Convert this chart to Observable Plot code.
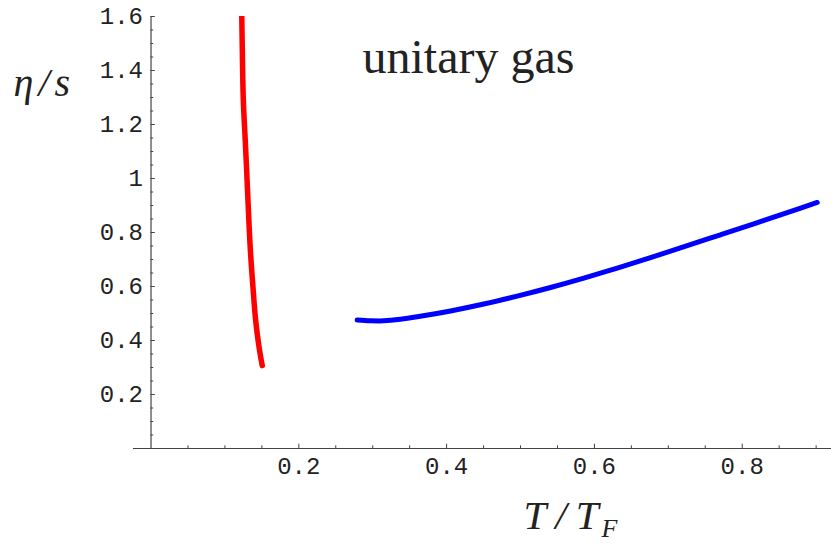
<!DOCTYPE html>
<html><head><meta charset="utf-8">
<script src="https://cdn.jsdelivr.net/npm/d3@7"></script>
<script src="https://cdn.jsdelivr.net/npm/@observablehq/plot@0.6"></script>
<style>html,body{margin:0;padding:0;background:#fff;overflow:hidden}</style>
</head><body><div id="chart"></div>
<script>
// Red curve (low temperature branch)
const redT   = [0.1227, 0.1234, 0.1249, 0.1279, 0.1306, 0.1323, 0.1346, 0.1378, 0.1414, 0.1459, 0.1505];
const redEta = [1.62,   1.50,   1.29,   1.12,   0.956,  0.851,  0.727,  0.604,  0.480,  0.381,  0.307];
// Blue curve (high temperature branch)
const blueT   = [0.2790, 0.2970, 0.3150, 0.3376, 0.3602, 0.4053, 0.4503, 0.4955, 0.5406, 0.5857, 0.6309, 0.6759, 0.7256, 0.7706, 0.8157, 0.8609, 0.9015];
const blueEta = [0.4759, 0.4732, 0.4730, 0.4787, 0.4877, 0.5093, 0.5350, 0.5644, 0.5964, 0.6311, 0.6682, 0.7069, 0.7511, 0.7916, 0.8322, 0.8738, 0.9112];
// Axis ticks
const xMajor = [0.2, 0.4, 0.6, 0.8];
const xTickLabels = ["0.2", "0.4", "0.6", "0.8"];
const yMajor = [0.2, 0.4, 0.6, 0.8, 1.0, 1.2, 1.4, 1.6];
const yTickLabels = ["0.2", "0.4", "0.6", "0.8", "1", "1.2", "1.4", "1.6"];
const xMinor = d3.range(1, 19).map(i => +(i * 0.05).toFixed(2)).filter(v => !xMajor.some(m => Math.abs(m - v) < 1e-9));
const yMinor = d3.range(1, 32).map(i => +(i * 0.05).toFixed(2)).filter(v => !yMajor.some(m => Math.abs(m - v) < 1e-9));
// Labels
const titleText = "unitary gas";
const yLabelText = "η/s";
const xLabelMain = "T/T";
const xLabelSub = "F";

const red = redT.map((t, i) => ({t, eta: redEta[i]}));
const blue = blueT.map((t, i) => ({t, eta: blueEta[i]}));
const xTicks = xMajor.map((v, i) => ({v, label: xTickLabels[i]}));
const yTicks = yMajor.map((v, i) => ({v, label: yTickLabels[i]}));

const W = 831, H = 546;
const mL = 133, mR = 0, mT = 16, mB = 98;
const xDom = [-0.0237, 0.9208], yDom = [0, 1.6];
const pxPerX = (W - mL - mR) / (xDom[1] - xDom[0]);
const pxPerY = (H - mT - mB) / (yDom[1] - yDom[0]);
const majY = 4.3 / pxPerY, minY = 2.7 / pxPerY;
const majX = 4.3 / pxPerX, minX = 2.7 / pxPerX;
const axisColor = "#444";
const mono = "'Liberation Mono', 'Courier New', monospace";
const serif = "'Liberation Serif', 'Times New Roman', serif";

const chart = Plot.plot({
  width: W, height: H,
  marginLeft: mL, marginRight: mR, marginTop: mT, marginBottom: mB,
  x: {domain: xDom, axis: null},
  y: {domain: yDom, axis: null},
  style: {background: "#fff", overflow: "visible"},
  marks: [
    // axes
    Plot.ruleY([0], {stroke: axisColor, strokeWidth: 1.2}),
    Plot.ruleX([0], {y1: 0, y2: 1.6, stroke: axisColor, strokeWidth: 1.2}),
    // x ticks
    Plot.ruleX(xMajor, {x: d => d, y1: 0, y2: majY, stroke: axisColor, strokeWidth: 1}),
    Plot.ruleX(xMinor, {x: d => d, y1: 0, y2: minY, stroke: axisColor, strokeWidth: 1}),
    // y ticks
    Plot.ruleY(yMajor, {y: d => d, x1: 0, x2: majX, stroke: axisColor, strokeWidth: 1}),
    Plot.ruleY(yMinor, {y: d => d, x1: 0, x2: minX, stroke: axisColor, strokeWidth: 1}),
    // tick labels
    Plot.text(xTicks, {x: "v", y: 0, text: "label", dy: 18, lineAnchor: "middle", textAnchor: "middle",
      fontFamily: mono, fontSize: 24, fill: "#222"}),
    Plot.text(yTicks, {x: 0, y: "v", text: "label", dx: -8, lineAnchor: "middle", textAnchor: "end",
      fontFamily: mono, fontSize: 24, fill: "#222"}),
    // curves
    Plot.line(red, {x: "t", y: "eta", stroke: "#ff0000", strokeWidth: 5.5, curve: "catmull-rom",
      strokeLinecap: "round", strokeLinejoin: "round", clip: true}),
    Plot.line(blue, {x: "t", y: "eta", stroke: "#0000ff", strokeWidth: 5, curve: "catmull-rom",
      strokeLinecap: "round", strokeLinejoin: "round"}),
    // annotations
    Plot.text([titleText], {x: 0.2862, y: 1.39, text: d => d, textAnchor: "start", lineAnchor: "bottom",
      fontFamily: serif, fontSize: 48, fill: "#222"}),
    Plot.text([yLabelText], {x: -0.186, y: 1.307, text: d => d, textAnchor: "start", lineAnchor: "bottom",
      fontFamily: serif, fontStyle: "italic", fontSize: 40, fill: "#222"}),
    Plot.text([xLabelMain], {x: 0.504, y: -0.297, text: d => d, textAnchor: "start", lineAnchor: "bottom",
      fontFamily: serif, fontStyle: "italic", fontSize: 41, fill: "#222"})
  ]
});
d3.select(chart).selectAll("text").each(function() {
  const t = this.textContent;
  if (t === yLabelText) this.setAttribute("letter-spacing", "5");
  if (t === xLabelMain) {
    // rebuild as T/ (spaced) + T + subscript F in one text element
    this.textContent = "";
    const ns = "http://www.w3.org/2000/svg";
    const a = document.createElementNS(ns, "tspan");
    a.setAttribute("letter-spacing", "9");
    a.textContent = xLabelMain.slice(0, -1);
    const b = document.createElementNS(ns, "tspan");
    b.textContent = xLabelMain.slice(-1);
    const c = document.createElementNS(ns, "tspan");
    c.setAttribute("font-size", "26");
    c.setAttribute("dy", "8.4");
    c.setAttribute("dx", "3");
    c.textContent = xLabelSub;
    this.appendChild(a); this.appendChild(b); this.appendChild(c);
  }
});
document.getElementById("chart").appendChild(chart);
</script>
</body></html>
